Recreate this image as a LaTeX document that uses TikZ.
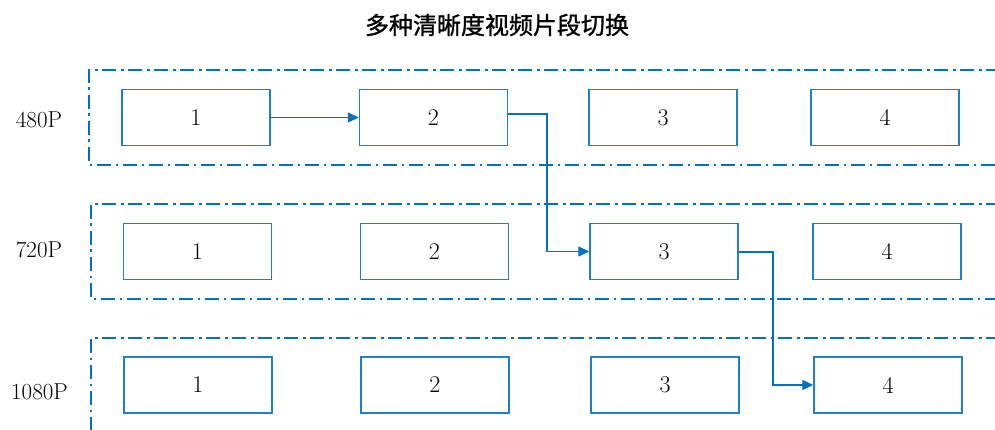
\documentclass[tikz,border=0pt]{standalone}
\usepackage{fontspec}
\newfontfamily\cjk[FakeBold=1.2]{Noto Sans CJK SC}
\usetikzlibrary{arrows.meta}
\definecolor{mblue}{HTML}{0070C0}
\definecolor{bblue}{HTML}{1F7FC8}
\tikzset{
  box/.style={draw=bblue, line width=1.4pt, minimum width=148pt, minimum height=56pt, inner sep=0pt, font=\fontsize{24}{26}\selectfont},
  frame/.style={draw=mblue, line width=2.6pt, dash pattern=on 14pt off 4.5pt on 2.5pt off 5pt},
  conn/.style={draw=mblue, line width=1.2pt, -{Triangle[length=11pt,width=10pt]}},
  lbl/.style={font=\fontsize{23}{26}\selectfont, inner sep=0pt}
}
\begin{document}
\begin{tikzpicture}[x=1pt,y=-1pt]
\useasboundingbox (0,0) rectangle (995,430);
% title
\node[font=\cjk\fontsize{24}{26}\selectfont] (title) at (497,25) {多种清晰度视频片段切换};
% frames
\draw[frame] (1000,70) -- (89,70) -- (89,165) -- (1000,165);
\draw[frame] (1000,204) -- (91,204) -- (91,299) -- (1000,299);
\draw[frame] (1000,338) -- (91,338) -- (91,440);
% labels
\node[lbl] (l480) at (39,119.5) {480P};
\node[lbl] (l720) at (39,249.5) {720P};
\node[lbl] (l1080) at (39.5,392) {1080P};
% row 1
\node[box] (a1) at (196,117.5) {1};
\node[box] (a2) at (433.5,117.5) {2};
\node[box] (a3) at (663,117.5) {3};
\node[box] (a4) at (885,117.5) {4};
% row 2
\node[box] (b1) at (197.5,251.5) {1};
\node[box] (b2) at (434.5,251.5) {2};
\node[box] (b3) at (664,251.5) {3};
\node[box] (b4) at (887,251.5) {4};
% row 3
\node[box] (c1) at (198,385) {1};
\node[box] (c2) at (435,385) {2};
\node[box] (c3) at (665,385) {3};
\node[box] (c4) at (888,385) {4};
% connectors
\coordinate (k1) at (547,114);
\coordinate (k2) at (773,252);
\draw[conn] (a1.east) -- (a2.west);
\draw[conn] (a2.east |- k1) -- (k1) |- (b3.west);
\draw[conn] (b3.east |- k2) -- (k2) |- (c4.west);
\end{tikzpicture}
\end{document}
